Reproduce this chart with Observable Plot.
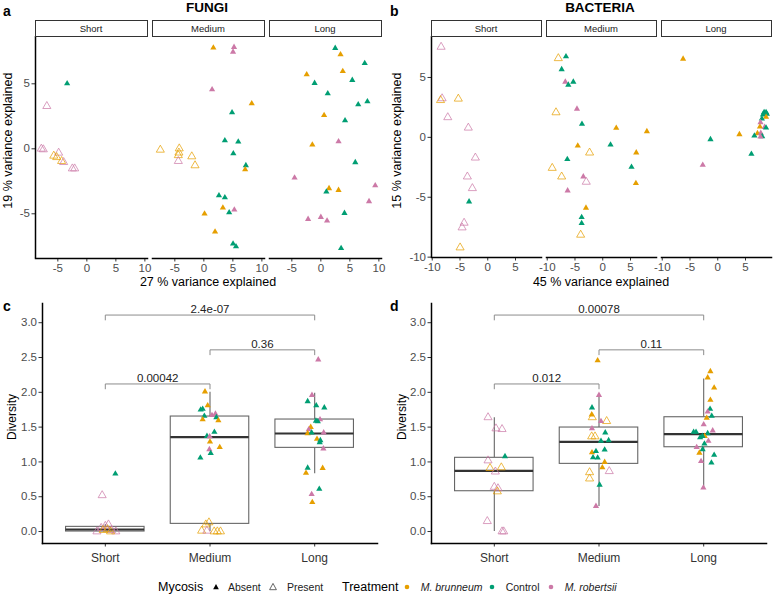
<!DOCTYPE html>
<html>
<head>
<meta charset="utf-8">
<script src="https://cdn.jsdelivr.net/npm/d3@7"></script>
<script src="https://cdn.jsdelivr.net/npm/@observablehq/plot@0.6"></script>
<style>
  body { margin: 0; background: #fff; font-family: Arial, "Liberation Sans", sans-serif; }
  #fig { position: relative; width: 773px; height: 595px; overflow: hidden; background: #fff; }
  .abs { position: absolute; white-space: nowrap; line-height: 1; }
  .strip { position: absolute; box-sizing: border-box; border: 1.3px solid #333; background: #fff;
           font-size: 9.5px; color: #1a1a1a; display: flex; align-items: center; justify-content: center; }
  .panel { position: absolute; }
  .panel svg { display: block; overflow: visible; }
</style>
</head>
<body>
<div id="fig"></div>
<script>
// ---- categories and legend ----
const durations = ["Short", "Medium", "Long"];
const treatments = ["B", "C", "R"];
const treatmentNames = ["M. brunneum", "Control", "M. robertsii"];
const treatmentColors = ["#E69F00", "#009E73", "#CC79A7"];
const mycosisNames = ["Absent", "Present"];   // A = filled, P = open

// ---- PCA scores, fungi: [duration, PC1, PC2, treatment, mycosis] ----
const fungiPCA = [
  ["Short", -3.4, 5.02, "C", "A"], ["Short", -6.9, 3.28, "R", "P"], ["Short", -7.85, 0.0, "R", "P"],
  ["Short", -7.5, -0.05, "R", "P"], ["Short", -4.86, -0.31, "R", "P"], ["Short", -5.7, -0.54, "B", "P"],
  ["Short", -5.2, -0.65, "B", "P"], ["Short", -4.35, -0.95, "B", "P"], ["Short", -4.0, -1.03, "R", "P"],
  ["Short", -2.5, -1.52, "R", "P"], ["Short", -2.1, -1.52, "R", "P"],
  ["Medium", 1.64, 7.77, "B", "A"], ["Medium", 5.2, 7.82, "R", "A"], ["Medium", 5.03, 7.46, "R", "A"],
  ["Medium", 1.42, 4.56, "R", "A"], ["Medium", 8.25, 3.48, "B", "A"], ["Medium", 4.86, 2.79, "C", "A"],
  ["Medium", 3.62, 0.64, "C", "A"], ["Medium", 5.93, 0.54, "C", "A"], ["Medium", 5.08, -0.36, "C", "A"],
  ["Medium", 7.24, -1.28, "C", "A"], ["Medium", 7.12, -1.59, "B", "A"], ["Medium", -7.5, -0.08, "B", "P"],
  ["Medium", -4.24, 0.02, "B", "P"], ["Medium", -4.3, -0.3, "B", "P"], ["Medium", -4.4, -0.5, "B", "P"],
  ["Medium", -4.4, -0.95, "R", "P"], ["Medium", -2.08, -0.59, "B", "P"], ["Medium", -1.52, -1.28, "B", "P"],
  ["Medium", 2.6, -3.59, "C", "A"], ["Medium", 3.62, -3.75, "C", "A"], ["Medium", 3.28, -4.54, "B", "A"],
  ["Medium", 5.25, -4.69, "R", "A"], ["Medium", 4.36, -4.9, "C", "A"], ["Medium", 0.12, -5.0, "B", "A"],
  ["Medium", 1.93, -6.38, "B", "A"], ["Medium", 5.03, -7.31, "C", "A"], ["Medium", 5.54, -7.52, "C", "A"],
  ["Long", 2.48, 7.74, "C", "A"], ["Long", 3.39, 7.25, "B", "A"], ["Long", 7.56, 6.58, "C", "A"],
  ["Long", -2.44, 5.72, "B", "A"], ["Long", 3.78, 5.97, "B", "A"], ["Long", -1.08, 5.05, "C", "A"],
  ["Long", 5.42, 5.28, "C", "A"], ["Long", 1.19, 4.25, "C", "A"], ["Long", 8.02, 3.64, "C", "A"],
  ["Long", 6.44, 3.41, "C", "A"], ["Long", 0.56, 2.58, "B", "A"], ["Long", 4.17, 2.18, "C", "A"],
  ["Long", 3.05, 0.56, "R", "A"], ["Long", -1.47, 0.31, "B", "A"], ["Long", 5.93, -1.05, "C", "A"],
  ["Long", -4.53, -2.23, "R", "A"], ["Long", 9.37, -2.82, "R", "A"], ["Long", 1.41, -3.05, "B", "A"],
  ["Long", 0.95, -3.31, "C", "A"], ["Long", 3.05, -3.18, "B", "A"], ["Long", 8.3, -4.05, "R", "A"],
  ["Long", 4.07, -4.95, "C", "A"], ["Long", -2.2, -5.41, "R", "A"], ["Long", 0.0, -5.26, "R", "A"],
  ["Long", 1.07, -5.54, "R", "A"], ["Long", 3.49, -7.65, "C", "A"]
];

// ---- PCA scores, bacteria ----
const bacteriaPCA = [
  ["Short", -8.4, 7.55, "R", "P"], ["Short", -8.22, 3.25, "R", "P"], ["Short", -8.5, 3.1, "B", "P"],
  ["Short", -5.3, 3.22, "B", "P"], ["Short", -7.2, 1.67, "R", "P"], ["Short", -3.5, 0.8, "R", "P"],
  ["Short", -2.23, -1.7, "R", "P"], ["Short", -3.67, -3.28, "R", "P"], ["Short", -2.77, -4.25, "R", "P"],
  ["Short", -3.36, -5.37, "C", "A"], ["Short", -4.26, -7.14, "R", "P"], ["Short", -4.62, -7.53, "R", "P"],
  ["Short", -4.98, -9.2, "B", "P"],
  ["Medium", -8.0, 6.6, "B", "P"], ["Medium", -6.62, 6.75, "C", "A"], ["Medium", -7.4, 5.67, "C", "A"],
  ["Medium", -6.74, 4.63, "R", "A"], ["Medium", -6.2, 4.38, "C", "A"], ["Medium", -5.3, 4.63, "C", "A"],
  ["Medium", -8.42, 2.08, "B", "P"], ["Medium", -4.64, 2.38, "R", "A"], ["Medium", -3.74, 1.11, "C", "A"],
  ["Medium", 2.43, 0.78, "B", "A"], ["Medium", 7.95, 0.5, "B", "A"], ["Medium", -4.5, -0.7, "B", "A"],
  ["Medium", -2.37, -1.28, "B", "P"], ["Medium", 1.4, -0.62, "C", "A"], ["Medium", 6.03, -1.28, "B", "A"],
  ["Medium", -6.38, -1.83, "C", "A"], ["Medium", -9.1, -2.56, "B", "P"], ["Medium", 5.18, -2.48, "C", "A"],
  ["Medium", -7.4, -3.28, "B", "P"], ["Medium", -3.5, -3.28, "R", "A"], ["Medium", -2.97, -3.72, "R", "P"],
  ["Medium", 5.97, -3.83, "B", "A"], ["Medium", -6.32, -4.45, "R", "A"], ["Medium", -3.02, -5.89, "B", "A"],
  ["Medium", -3.8, -6.67, "C", "A"], ["Medium", -3.8, -7.17, "C", "A"], ["Medium", -3.98, -8.14, "B", "P"],
  ["Long", -6.24, 6.55, "B", "A"], ["Long", 8.35, 2.1, "C", "A"], ["Long", 8.7, 2.1, "C", "A"],
  ["Long", 8.85, 1.95, "C", "A"], ["Long", 8.15, 1.9, "C", "A"], ["Long", 8.7, 1.7, "B", "A"],
  ["Long", 7.95, 1.55, "C", "A"], ["Long", 7.7, 1.25, "R", "A"], ["Long", 7.6, 0.88, "B", "A"],
  ["Long", 8.45, 0.85, "R", "A"], ["Long", 8.7, 0.8, "C", "A"], ["Long", 7.15, 0.33, "B", "A"],
  ["Long", 7.75, 0.35, "R", "A"], ["Long", 6.6, 0.13, "C", "A"], ["Long", 8.0, 0.08, "C", "A"],
  ["Long", 7.7, 0.05, "R", "A"], ["Long", 3.9, 0.25, "B", "A"], ["Long", -1.31, -0.17, "C", "A"],
  ["Long", 6.06, -1.39, "C", "A"], ["Long", -2.7, -2.31, "R", "A"]
];

// ---- diversity, fungi: [duration, horizontal jitter, diversity, treatment, mycosis] ----
const fungiDiversity = [
  ["Short", 0.096, 0.83, "C", "A"], ["Short", -0.03, 0.52, "R", "P"], ["Short", -0.08, 0.0, "R", "P"],
  ["Short", -0.04, 0.05, "R", "P"], ["Short", 0.0, 0.08, "R", "P"], ["Short", 0.03, 0.1, "R", "P"],
  ["Short", 0.06, 0.02, "R", "P"], ["Short", 0.1, 0.0, "R", "P"], ["Short", -0.02, 0.02, "B", "P"],
  ["Short", 0.02, 0.03, "B", "P"], ["Short", 0.05, 0.0, "B", "P"],
  ["Medium", -0.048, 2.01, "B", "A"], ["Medium", -0.022, 1.81, "B", "A"], ["Medium", -0.089, 1.75, "C", "A"],
  ["Medium", -0.07, 1.76, "C", "A"], ["Medium", -0.054, 1.66, "C", "A"], ["Medium", -0.07, 1.61, "B", "A"],
  ["Medium", 0.019, 1.67, "R", "A"], ["Medium", 0.052, 1.69, "R", "A"], ["Medium", 0.061, 1.64, "C", "A"],
  ["Medium", 0.08, 1.595, "B", "A"], ["Medium", 0.042, 1.43, "C", "A"], ["Medium", -0.029, 1.37, "C", "A"],
  ["Medium", -0.003, 1.365, "R", "A"], ["Medium", 0.0, 1.29, "B", "A"], ["Medium", 0.093, 1.21, "B", "A"],
  ["Medium", -0.006, 1.18, "R", "A"], ["Medium", 0.007, 1.125, "C", "A"], ["Medium", -0.092, 1.06, "C", "A"],
  ["Medium", -0.01, 0.13, "B", "P"], ["Medium", -0.04, 0.1, "B", "P"], ["Medium", -0.08, 0.01, "B", "P"],
  ["Medium", -0.03, 0.01, "R", "P"], ["Medium", 0.04, 0.0, "B", "P"], ["Medium", 0.07, 0.0, "B", "P"],
  ["Medium", 0.1, 0.0, "B", "P"],
  ["Long", 0.034, 2.47, "R", "A"], ["Long", -0.026, 1.96, "R", "A"], ["Long", -0.067, 1.87, "C", "A"],
  ["Long", 0.015, 1.81, "C", "A"], ["Long", 0.092, 1.78, "C", "A"], ["Long", 0.051, 1.61, "R", "A"],
  ["Long", 0.012, 1.59, "C", "A"], ["Long", 0.03, 1.58, "C", "A"], ["Long", -0.038, 1.5, "B", "A"],
  ["Long", -0.057, 1.465, "R", "A"], ["Long", -0.067, 1.41, "B", "A"], ["Long", -0.029, 1.42, "C", "A"],
  ["Long", 0.086, 1.42, "R", "A"], ["Long", 0.022, 1.33, "B", "A"], ["Long", 0.048, 1.28, "C", "A"],
  ["Long", 0.054, 1.31, "C", "A"], ["Long", 0.083, 1.19, "R", "A"], ["Long", -0.067, 0.915, "C", "A"],
  ["Long", -0.083, 0.84, "B", "A"], ["Long", 0.076, 0.91, "B", "A"], ["Long", 0.044, 0.61, "C", "A"],
  ["Long", -0.029, 0.535, "R", "A"], ["Long", -0.023, 0.42, "B", "A"]
];

// ---- diversity, bacteria ----
const bacteriaDiversity = [
  ["Short", -0.06, 1.64, "R", "P"], ["Short", 0.016, 1.48, "R", "P"], ["Short", 0.074, 1.47, "R", "P"],
  ["Short", 0.102, 1.08, "C", "A"], ["Short", -0.06, 1.02, "R", "P"], ["Short", -0.041, 0.91, "B", "P"],
  ["Short", 0.067, 0.92, "B", "P"], ["Short", 0.01, 0.86, "R", "P"], ["Short", 0.0, 0.64, "R", "P"],
  ["Short", 0.035, 0.62, "R", "P"], ["Short", 0.029, 0.575, "B", "P"], ["Short", -0.067, 0.148, "R", "P"],
  ["Short", 0.074, 0.0, "R", "P"], ["Short", 0.09, 0.0, "R", "P"],
  ["Medium", -0.013, 2.457, "B", "A"], ["Medium", 0.0, 1.96, "R", "A"], ["Medium", -0.067, 1.78, "C", "A"],
  ["Medium", -0.07, 1.68, "B", "A"], ["Medium", -0.064, 1.64, "B", "P"], ["Medium", 0.019, 1.585, "R", "A"],
  ["Medium", 0.073, 1.585, "B", "P"], ["Medium", -0.067, 1.48, "R", "A"], ["Medium", 0.06, 1.42, "C", "A"],
  ["Medium", -0.07, 1.365, "B", "P"], ["Medium", -0.038, 1.365, "B", "P"], ["Medium", 0.019, 1.3, "C", "A"],
  ["Medium", 0.092, 1.31, "C", "A"], ["Medium", 0.054, 1.174, "C", "A"], ["Medium", -0.067, 1.135, "B", "A"],
  ["Medium", -0.029, 1.154, "C", "A"], ["Medium", -0.057, 1.063, "C", "A"], ["Medium", -0.013, 1.06, "C", "A"],
  ["Medium", 0.054, 0.996, "B", "A"], ["Medium", 0.032, 0.92, "B", "A"], ["Medium", -0.09, 0.85, "B", "P"],
  ["Medium", -0.09, 0.76, "B", "P"], ["Medium", 0.098, 0.866, "R", "P"], ["Medium", 0.006, 0.67, "C", "A"],
  ["Medium", -0.029, 0.364, "R", "A"],
  ["Long", 0.064, 2.3, "B", "A"], ["Long", 0.038, 2.21, "B", "A"], ["Long", 0.1, 2.065, "B", "A"],
  ["Long", 0.064, 1.89, "B", "A"], ["Long", 0.061, 1.76, "C", "A"], ["Long", 0.038, 1.72, "R", "A"],
  ["Long", 0.077, 1.66, "C", "A"], ["Long", 0.029, 1.63, "B", "A"], ["Long", 0.0, 1.537, "R", "A"],
  ["Long", -0.096, 1.43, "C", "A"], ["Long", -0.073, 1.43, "C", "A"], ["Long", 0.086, 1.45, "R", "A"],
  ["Long", 0.038, 1.41, "C", "A"], ["Long", 0.01, 1.37, "B", "A"], ["Long", -0.034, 1.35, "C", "A"],
  ["Long", -0.012, 1.37, "C", "A"], ["Long", 0.045, 1.3, "R", "A"], ["Long", 0.007, 1.26, "C", "A"],
  ["Long", -0.067, 1.21, "R", "A"], ["Long", -0.01, 1.18, "C", "A"], ["Long", -0.041, 1.13, "B", "A"],
  ["Long", 0.1, 1.1, "C", "A"], ["Long", -0.025, 1.01, "R", "A"], ["Long", 0.074, 0.987, "C", "A"],
  ["Long", -0.003, 0.628, "R", "A"]
];

// ---- box summaries (Short, Medium, Long) ----
const fungiWhiskerLow = [0.0, 0.0, 0.83];
const fungiQ1 = [0.0, 0.11, 1.202];
const fungiMedian = [0.029, 1.355, 1.408];
const fungiQ3 = [0.067, 1.652, 1.609];
const fungiWhiskerHigh = [0.1, 2.0, 1.987];

const bacteriaWhiskerLow = [0.0, 0.36, 0.628];
const bacteriaQ1 = [0.579, 0.972, 1.211];
const bacteriaMedian = [0.872, 1.289, 1.398];
const bacteriaQ3 = [1.059, 1.494, 1.642];
const bacteriaWhiskerHigh = [1.633, 1.978, 2.19];

// ---- pairwise comparisons: [from, to, p-value label, bracket height] ----
const fungiTests = [["Short", "Long", "2.4e-07", 3.11], ["Medium", "Long", "0.36", 2.61], ["Short", "Medium", "0.00042", 2.12]];
const bacteriaTests = [["Short", "Long", "0.00078", 3.11], ["Medium", "Long", "0.11", 2.61], ["Short", "Medium", "0.012", 2.12]];

// ---- tick values ----
const fungiPCATicksX = [-5, 0, 5, 10];
const fungiPCATicksY = [-5, 0, 5];
const bacteriaPCATicksX = [-10, -5, 0, 5];
const bacteriaPCATicksY = [-10, -5, 0, 5];
const diversityTicks = [0, 0.5, 1, 1.5, 2, 2.5, 3];

// ------------------------------------------------------------------
const fig = document.getElementById("fig");
const FONT = "Arial, 'Liberation Sans', sans-serif";

function place(node, left, top) {
  const wrap = document.createElement("div");
  wrap.className = "panel";
  wrap.style.left = left + "px";
  wrap.style.top = top + "px";
  wrap.appendChild(node);
  fig.appendChild(wrap);
  return wrap;
}

function text(str, x, y, opts = {}) {
  const el = document.createElement("div");
  el.className = "abs";
  el.textContent = str;
  el.style.left = x + "px";
  el.style.top = y + "px";
  el.style.fontSize = (opts.size || 12) + "px";
  el.style.color = opts.color || "#000";
  if (opts.bold) el.style.fontWeight = "bold";
  if (opts.italic) el.style.fontStyle = "italic";
  const ax = opts.anchor === "start" ? "0" : "-50%";
  el.style.transform = `translate(${ax}, -50%)` + (opts.rotate ? ` rotate(${opts.rotate}deg)` : "");
  if (opts.rotate) el.style.transformOrigin = "0 0";
  fig.appendChild(el);
  return el;
}

const colorScale = {domain: treatments, range: treatmentColors};
const toRows = (arr) => arr.map(([f, x, y, t, m]) => ({f, x, y, t, m}));

function pcaPanel({rows, left, width, height, marginLeft, marginRight, marginTop, marginBottom, gap, xDomain, yDomain, xTicks, yTicks}) {
  const data = toRows(rows);
  const chart = Plot.plot({
    width, height, marginLeft, marginRight, marginTop, marginBottom,
    style: {fontFamily: FONT, fontSize: "11.5px", color: "#4d4d4d", background: "transparent", overflow: "visible"},
    fx: {domain: durations, paddingInner: gap, paddingOuter: 0, round: false, axis: null, label: null},
    x: {domain: xDomain},
    y: {domain: yDomain},
    color: colorScale,
    marks: [
      Plot.axisX({ticks: xTicks, tickFormat: d => String(d), tickSize: 3.5, tickPadding: 1.5, label: null, stroke: "#333"}),
      Plot.axisY({ticks: yTicks, tickFormat: d => String(d), tickSize: 3.5, tickPadding: 2, label: null, stroke: "#333"}),
      Plot.frame({anchor: "bottom", stroke: "#000", strokeWidth: 1.5}),
      Plot.ruleX([{f: durations[0], x: xDomain[0]}], {x: "x", fx: "f", stroke: "#000", strokeWidth: 1.5}),
      Plot.dot(data.filter(d => d.m === "P"), {x: "x", y: "y", fx: "f", symbol: "triangle", r: 3.0,
        stroke: "t", fill: "none", strokeWidth: 0.9, strokeOpacity: 0.8}),
      Plot.dot(data.filter(d => d.m === "A"), {x: "x", y: "y", fx: "f", symbol: "triangle", r: 2.3,
        fill: "t", stroke: "none"})
    ]
  });
  place(chart, left, 0);
  // facet strips above each panel
  const fx = chart.scale("fx");
  for (const f of durations) {
    const s = document.createElement("div");
    s.className = "strip";
    s.textContent = f;
    s.style.left = (left + fx.apply(f) - 0.5) + "px";
    s.style.top = "20px";
    s.style.width = (fx.bandwidth + 1) + "px";
    s.style.height = "16.5px";
    fig.appendChild(s);
  }
  return chart;
}

function diversityPanel({rows, tests, lo, q1, med, q3, hi, left, top, width, height, marginLeft, marginRight, marginTop, marginBottom}) {
  const pos = f => durations.indexOf(f) + 1;
  const pts = toRows(rows).map(d => ({...d, px: pos(d.f) + d.x}));
  const boxes = durations.map((f, i) => ({i: i + 1, lo: lo[i], q1: q1[i], med: med[i], q3: q3[i], hi: hi[i]}));
  const half = 0.375;
  const bracketPts = tests.flatMap(([a, b, , h], k) => [
    {k, x: pos(a), y: h - 0.07}, {k, x: pos(a), y: h}, {k, x: pos(b), y: h}, {k, x: pos(b), y: h - 0.07}
  ]);
  const bracketLabels = tests.map(([a, b, label, h]) => ({x: (pos(a) + pos(b)) / 2, y: h, label}));
  const chart = Plot.plot({
    width, height, marginLeft, marginRight, marginTop, marginBottom,
    style: {fontFamily: FONT, fontSize: "11.5px", color: "#4d4d4d", background: "transparent", overflow: "visible"},
    x: {domain: [0.4, 3.6]},
    y: {domain: [-0.172, 3.276]},
    color: colorScale,
    marks: [
      Plot.axisX({ticks: [1, 2, 3], tickFormat: i => durations[i - 1], tickSize: 3.5, tickPadding: 6,
        label: null, stroke: "#333", fill: "#333", fontSize: 12}),
      Plot.axisY({ticks: diversityTicks, tickFormat: d3.format(".1f"), tickSize: 3.5, tickPadding: 2,
        label: null, stroke: "#333"}),
      Plot.ruleX(boxes, {x: "i", y1: "q3", y2: "hi", stroke: "#666", strokeWidth: 1.1}),
      Plot.ruleX(boxes, {x: "i", y1: "lo", y2: "q1", stroke: "#666", strokeWidth: 1.1}),
      Plot.rect(boxes, {x1: d => d.i - half, x2: d => d.i + half, y1: "q1", y2: "q3",
        fill: "white", stroke: "#666", strokeWidth: 1.1}),
      Plot.ruleY(boxes, {y: "med", x1: d => d.i - half, x2: d => d.i + half, stroke: "#333", strokeWidth: 2.2}),
      Plot.dot(pts.filter(d => d.m === "P"), {x: "px", y: "y", symbol: "triangle", r: 3.0,
        stroke: "t", fill: "none", strokeWidth: 0.9, strokeOpacity: 0.8}),
      Plot.dot(pts.filter(d => d.m === "A"), {x: "px", y: "y", symbol: "triangle", r: 2.3, fill: "t", stroke: "none"}),
      Plot.line(bracketPts, {x: "x", y: "y", z: "k", stroke: "#8c8c8c", strokeWidth: 1}),
      Plot.text(bracketLabels, {x: "x", y: "y", text: "label", dy: -6, fill: "#222", fontSize: 11.5}),
      Plot.frame({anchor: "left", stroke: "#000", strokeWidth: 1.5}),
      Plot.frame({anchor: "bottom", stroke: "#000", strokeWidth: 1.5})
    ]
  });
  place(chart, left, top);
  return chart;
}

// ---- panel a: fungi PCA ----
pcaPanel({rows: fungiPCA, left: 0, width: 385, height: 280, marginLeft: 35, marginRight: 4,
  marginTop: 36, marginBottom: 22, gap: 5 / 117, xDomain: [-8.85, 10.45], yDomain: [-8.44, 8.64],
  xTicks: fungiPCATicksX, yTicks: fungiPCATicksY});
text("a", 3, 11, {bold: true, size: 14, anchor: "start"});
text("FUNGI", 207, 7.5, {bold: true, size: 13.5});
text("27 % variance explained", 208, 282, {size: 12.5});
text("19 % variance explained", 2, 147 + 68, {size: 12.5, rotate: -90, anchor: "start"});

// ---- panel b: bacteria PCA ----
pcaPanel({rows: bacteriaPCA, left: 385, width: 388, height: 280, marginLeft: 46, marginRight: 2,
  marginTop: 36, marginBottom: 23, gap: 5 / 115, xDomain: [-10.13, 9.68], yDomain: [-10.03, 8.42],
  xTicks: bacteriaPCATicksX, yTicks: bacteriaPCATicksY});
text("b", 390, 11, {bold: true, size: 14, anchor: "start"});
text("BACTERIA", 600, 7.5, {bold: true, size: 13.5});
text("45 % variance explained", 601, 282, {size: 12.5});
text("15 % variance explained", 391, 147 + 68, {size: 12.5, rotate: -90, anchor: "start"});

// ---- panel c: fungi diversity ----
diversityPanel({rows: fungiDiversity, tests: fungiTests, lo: fungiWhiskerLow, q1: fungiQ1, med: fungiMedian,
  q3: fungiQ3, hi: fungiWhiskerHigh, left: 0, top: 290, width: 385, height: 285,
  marginLeft: 42, marginRight: 8, marginTop: 13, marginBottom: 32});
text("c", 3, 306, {bold: true, size: 14, anchor: "start"});
text("Diversity", 6, 423 + 23, {size: 12, rotate: -90, anchor: "start"});

// ---- panel d: bacteria diversity ----
diversityPanel({rows: bacteriaDiversity, tests: bacteriaTests, lo: bacteriaWhiskerLow, q1: bacteriaQ1,
  med: bacteriaMedian, q3: bacteriaQ3, hi: bacteriaWhiskerHigh, left: 385, top: 290, width: 388, height: 285,
  marginLeft: 46, marginRight: 7, marginTop: 13, marginBottom: 32});
text("d", 390, 306, {bold: true, size: 14, anchor: "start"});
text("Diversity", 396, 423 + 23, {size: 12, rotate: -90, anchor: "start"});

// ---- legend ----
const LY = 587;
function symbol(x, kind, color) {
  const ns = "http://www.w3.org/2000/svg";
  const svg = document.createElementNS(ns, "svg");
  svg.setAttribute("width", 10); svg.setAttribute("height", 10);
  svg.style.position = "absolute";
  svg.style.left = (x - 5) + "px";
  svg.style.top = (LY - 5) + "px";
  let shape;
  if (kind === "dot") {
    shape = document.createElementNS(ns, "circle");
    shape.setAttribute("cx", 5); shape.setAttribute("cy", 5); shape.setAttribute("r", 2.3);
    shape.setAttribute("fill", color);
  } else {
    shape = document.createElementNS(ns, "polygon");
    const s = kind === "filled" ? 3 : 3.6;
    shape.setAttribute("points", `5,${5 - s} ${5 + s * 0.95},${5 + s * 0.75} ${5 - s * 0.95},${5 + s * 0.75}`);
    if (kind === "filled") shape.setAttribute("fill", color);
    else { shape.setAttribute("fill", "none"); shape.setAttribute("stroke", color); shape.setAttribute("stroke-width", 0.9); }
  }
  svg.appendChild(shape);
  fig.appendChild(svg);
}
text("Mycosis", 158, LY, {size: 12.5, anchor: "start"});
symbol(215.7, "filled", "#000");
text(mycosisNames[0], 228, LY, {size: 10.5, anchor: "start", color: "#222"});
symbol(273, "open", "#555");
text(mycosisNames[1], 287, LY, {size: 10.5, anchor: "start", color: "#222"});
text("Treatment", 342, LY, {size: 12.5, anchor: "start"});
const legendX = [406.7, 491.7, 550.7];
treatmentNames.forEach((name, i) => {
  symbol(legendX[i], "dot", treatmentColors[i]);
  text(name, legendX[i] + 14, LY, {size: 10.5, anchor: "start", italic: name !== "Control", color: "#222"});
});
</script>
</body>
</html>
